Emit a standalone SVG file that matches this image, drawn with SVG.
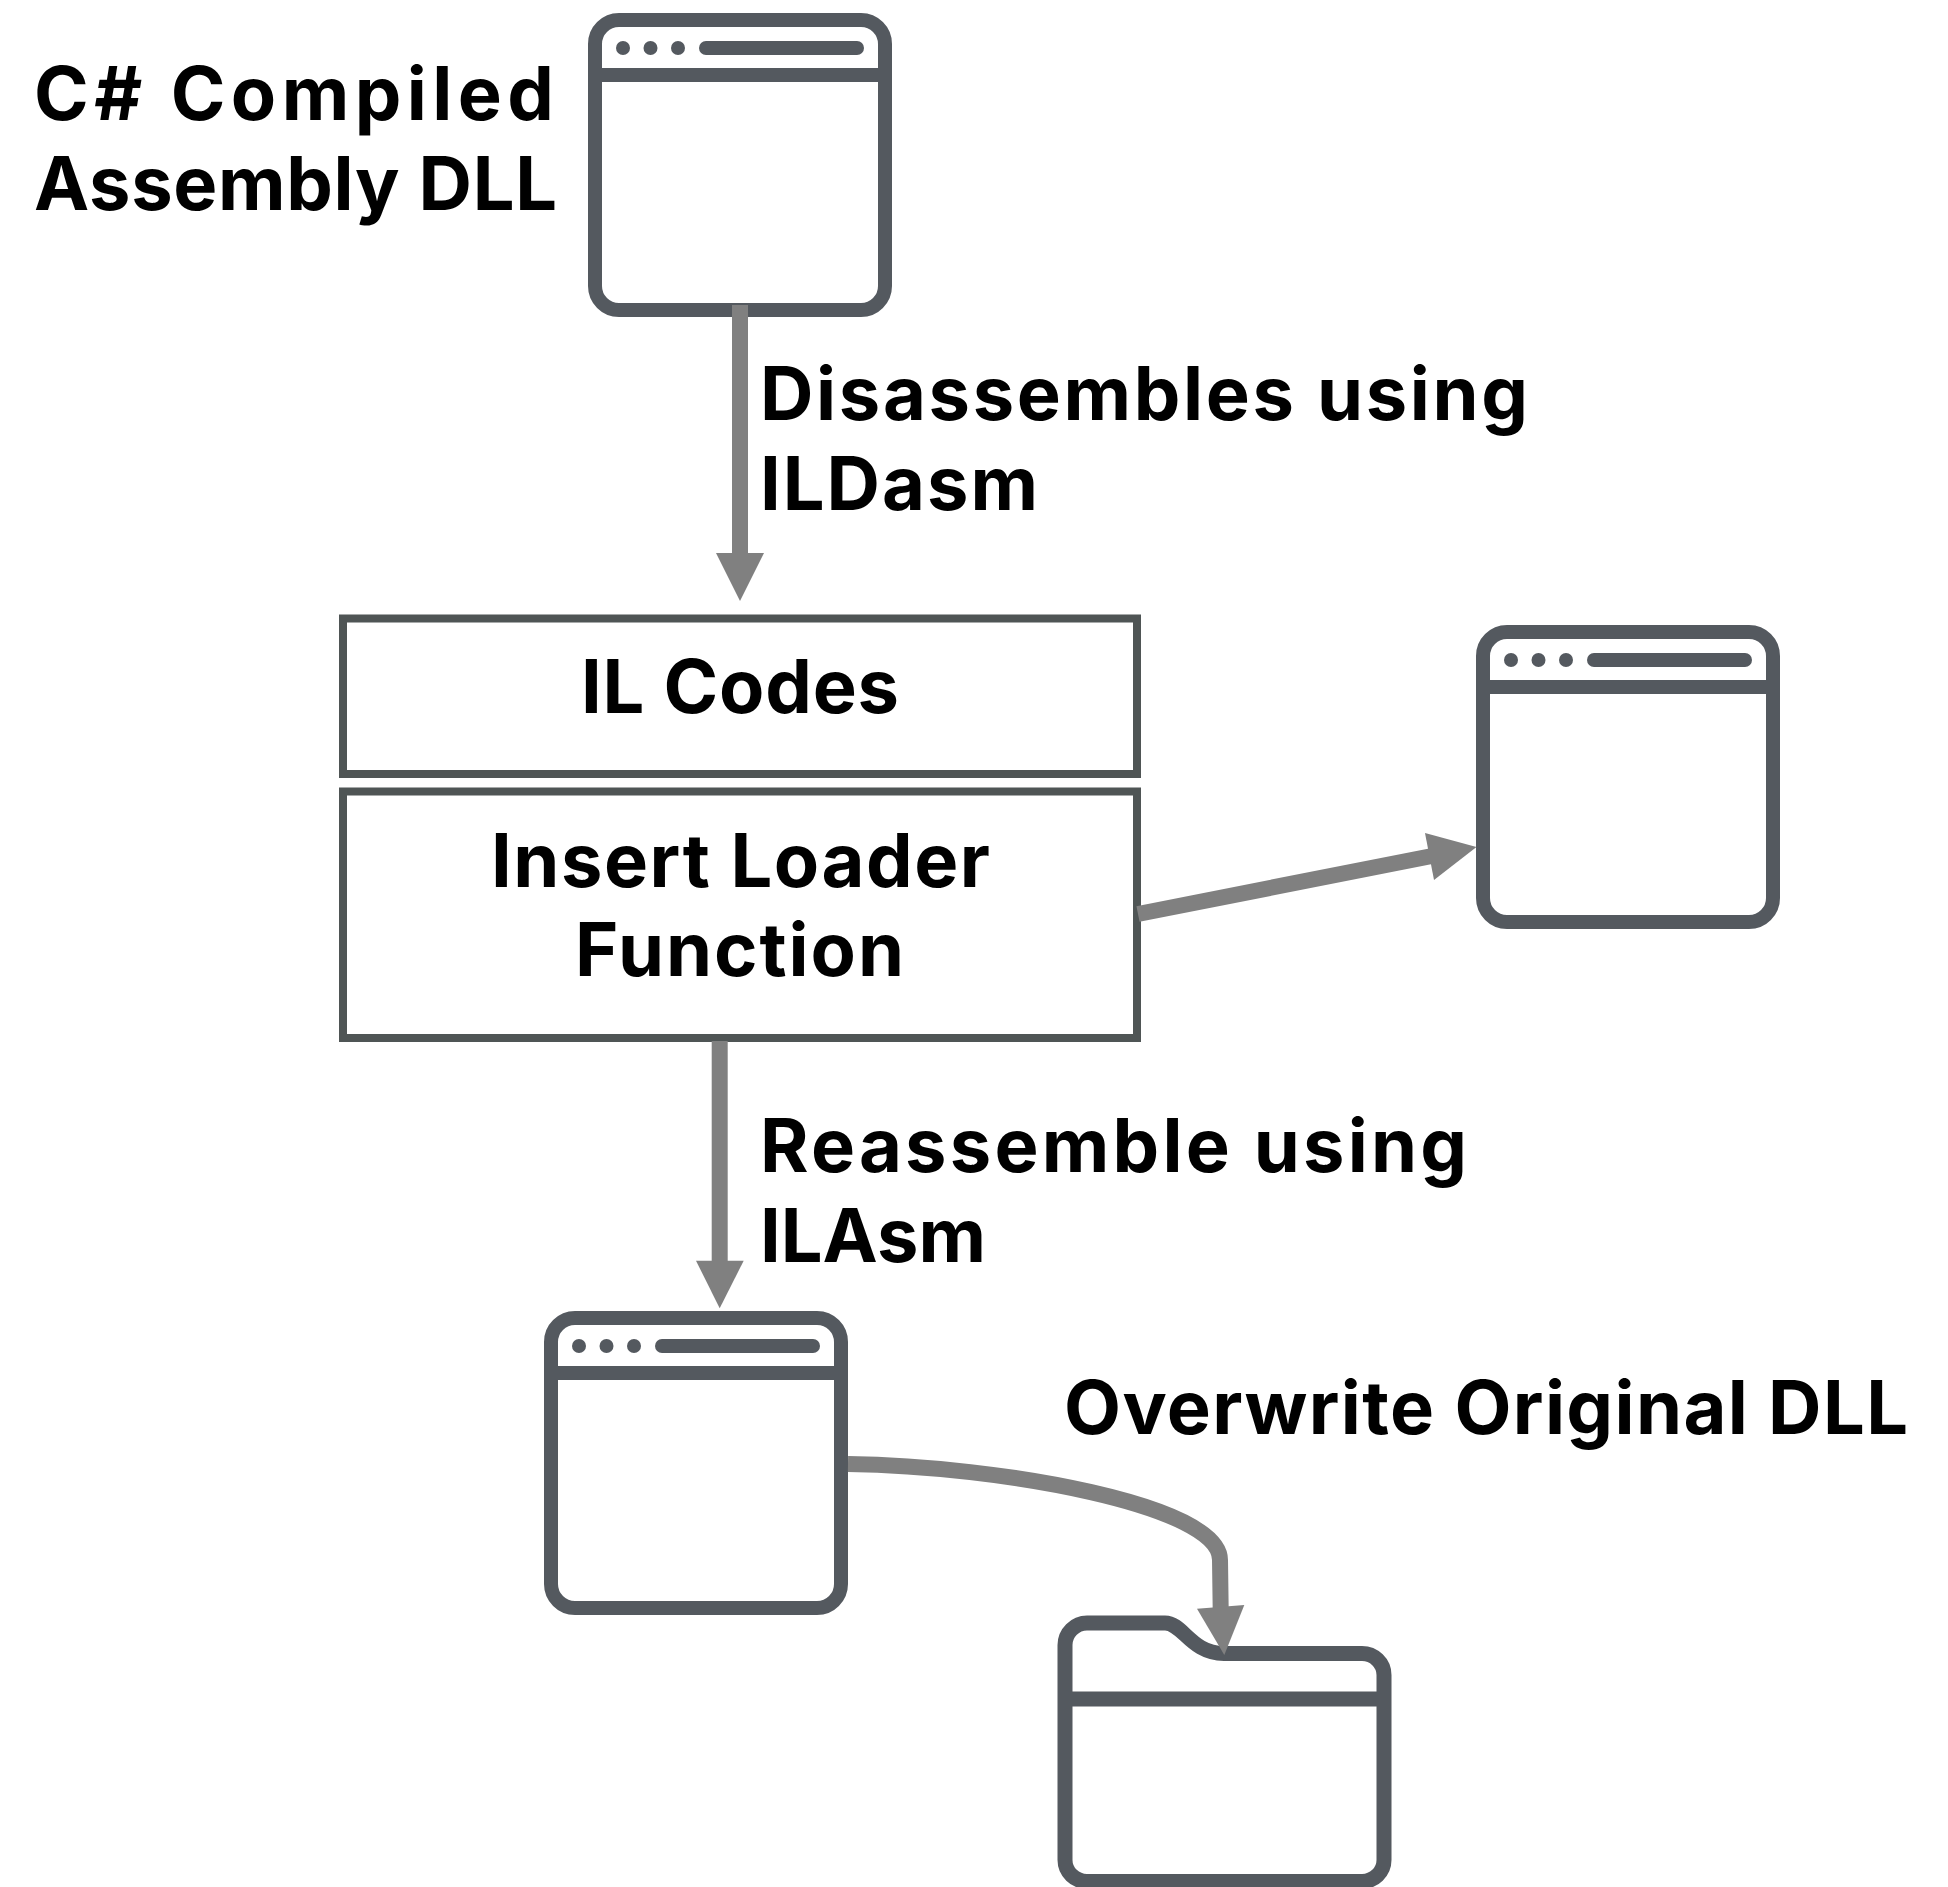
<svg xmlns="http://www.w3.org/2000/svg" width="1948" height="1887" viewBox="0 0 1948 1887">
<style>
.t{font-family:"Inter","Liberation Sans",sans-serif;font-weight:700;font-size:74px;fill:#000}
.i{fill:none;stroke:#54595f;stroke-width:14}
.f{fill:none;stroke:#54595f;stroke-width:15}
.d{fill:#54595f}
.b{fill:#fff;stroke:#4f5555;stroke-width:8}
.l{fill:none;stroke:#808080;stroke-width:16}
.h{fill:#808080}
</style>
<defs>
<g id="win">
<rect class="i" x="595" y="20" width="290" height="290" rx="24"/>
<path class="i" d="M595 75H885"/>
<circle class="d" cx="623" cy="48" r="7"/><circle class="d" cx="650.500" cy="48" r="7"/><circle class="d" cx="678" cy="48" r="7"/>
<rect class="d" x="699" y="41" width="165" height="14" rx="7"/>
</g>
</defs>
<rect width="1948" height="1887" fill="#fff"/>
<g id="window-source"><use href="#win"/></g>
<g id="window-side"><use href="#win" x="888" y="612"/></g>
<g id="window-output"><use href="#win" x="-44" y="1298"/></g>
<g id="folder"><path class="f" d="M1065 1645C1065 1633 1075 1623 1087 1623H1165C1183 1623 1191 1653.500 1224 1653.500H1362C1374 1653.500 1384 1663 1384 1675V1860C1384 1872 1374 1881.500 1362 1881.500H1087C1075 1881.500 1065 1872 1065 1860ZM1065 1699H1384"/></g>
<g id="il-codes"><rect class="b" x="343" y="618.500" width="794" height="155.500"/><text class="t" x="581" y="713" textLength="318" lengthAdjust="spacing">IL Codes</text></g>
<g id="insert-loader"><rect class="b" x="343" y="791.500" width="794" height="246.500"/><text class="t" x="491" y="887" textLength="499" lengthAdjust="spacing">Insert Loader</text><text class="t" x="575" y="976" textLength="329" lengthAdjust="spacing">Function</text></g>
<g id="connectors">
<path class="l" d="M740 305V560"/><path class="h" d="M716 553H764L740 601Z"/>
<path class="l" d="M1138 914L1432 856"/><path class="h" d="M1425 833L1476.500 847L1434 880Z"/>
<path class="l" d="M719.700 1041V1265"/><path class="h" d="M696 1260.700H743.700L719.700 1308.300Z"/>
<path class="l" d="M848 1464C1000 1466 1220 1505 1220 1560L1220.700 1610"/><path class="h" d="M1197 1608.700L1244.300 1605L1224.300 1655Z"/>
</g>
<g id="labels">
<text class="t" x="34" y="120" textLength="520" lengthAdjust="spacing">C# Compiled</text>
<text class="t" x="34" y="210" textLength="523" lengthAdjust="spacing">Assembly DLL</text>
<text class="t" x="760" y="420" textLength="768" lengthAdjust="spacing">Disassembles using</text>
<text class="t" x="760" y="510" textLength="278" lengthAdjust="spacing">ILDasm</text>
<text class="t" x="760" y="1172" textLength="707" lengthAdjust="spacing">Reassemble using</text>
<text class="t" x="760" y="1262" textLength="226" lengthAdjust="spacing">ILAsm</text>
<text class="t" x="1064" y="1434" textLength="844" lengthAdjust="spacing">Overwrite Original DLL</text>
</g>
</svg>
